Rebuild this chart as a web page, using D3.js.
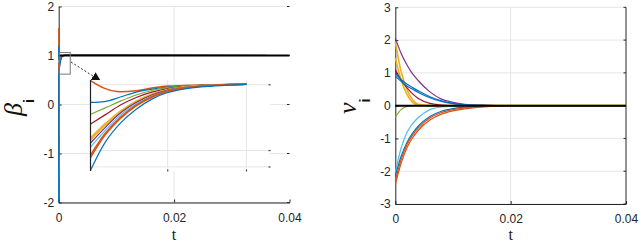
<!DOCTYPE html>
<html>
<head>
<meta charset="utf-8">
<script src="https://cdn.jsdelivr.net/npm/d3@7"></script>
<style>
  body { margin: 0; background: #fff; }
  svg { display: block; }
  .tick text { font-family: "Liberation Sans", Arial, sans-serif; font-size: 12px; fill: #262626; }
  .axis path, .axis line { stroke: #262626; }
</style>
</head>
<body>
<div id="chart"></div>
<script>
// MATLAB default line colours, one per agent
const seriesColors = ['#D95319', '#0072BD', '#77AC30', '#A2142F', '#EDB120', '#EDB120',
  '#7E2F8E', '#4DBEEE', '#D95319', '#D95319', '#0072BD'];

// beta_i : initial values at t = 0
const betaStart = [1.56, 1.2, 0.4, -0.3, 0.3, -0.6, -0.9, -1.5, -1.2, 0.8, -2.0];
// beta_i after the jump (times of the zoomed inset)
const betaInsetT = [0.00001, 0.0001, 0.0002, 0.0003, 0.0004, 0.0005, 0.0006, 0.0008, 0.001];
const betaInset = [
  [1.02, 0.982, 0.966, 0.971, 0.984, 0.994, 0.996, 1.0, 1.003],
  [0.914, 0.918, 0.94, 0.964, 0.979, 0.989, 0.994, 0.999, 1.002],
  [0.856, 0.886, 0.92, 0.95, 0.972, 0.986, 0.994, 0.999, 1.002],
  [0.808, 0.852, 0.901, 0.938, 0.964, 0.981, 0.991, 0.999, 1.002],
  [0.741, 0.808, 0.872, 0.92, 0.955, 0.977, 0.989, 0.999, 1.003],
  [0.73, 0.80, 0.866, 0.916, 0.952, 0.975, 0.988, 0.998, 1.003],
  [0.716, 0.789, 0.862, 0.913, 0.95, 0.974, 0.986, 0.998, 1.002],
  [0.696, 0.774, 0.852, 0.906, 0.945, 0.972, 0.986, 0.998, 1.002],
  [0.657, 0.76, 0.842, 0.901, 0.942, 0.969, 0.984, 0.997, 1.003],
  [0.645, 0.752, 0.836, 0.897, 0.939, 0.967, 0.983, 0.997, 1.003],
  [0.584, 0.716, 0.813, 0.881, 0.93, 0.962, 0.979, 0.994, 1.002],
];
const betaEnd = [0.04, 1.0];
const betaRef = 1;

// nu_i
const nuT = [0, 0.001, 0.002, 0.003, 0.004, 0.006, 0.008, 0.01, 0.012, 0.016, 0.02, 0.04];
const nuColors = ['#7E2F8E', '#EDB120', '#EDB120', '#A2142F', '#0072BD', '#0072BD',
  '#77AC30', '#4DBEEE', '#0072BD', '#D95319', '#D95319'];
const nuValues = [
  [2.06, 1.6, 1.25, 0.97, 0.76, 0.42, 0.2, 0.1, 0.04, 0.01, 0, 0],
  [1.95, 1.05, 0.5, 0.18, 0.04, 0, 0, 0, 0, 0, 0, 0],
  [1.45, 0.8, 0.35, 0.1, 0.02, 0, 0, 0, 0, 0, 0, 0],
  [1.1, 0.78, 0.55, 0.36, 0.22, 0.07, 0.02, 0, 0, 0, 0, 0],
  [0.98, 0.8, 0.66, 0.55, 0.45, 0.27, 0.15, 0.07, 0.03, 0.01, 0, 0],
  [0.9, 0.74, 0.6, 0.5, 0.4, 0.24, 0.13, 0.06, 0.02, 0, 0, 0],
  [-0.35, -0.12, -0.03, 0, 0, 0, 0, 0, 0, 0, 0, 0],
  [-2.05, -1.3, -0.83, -0.55, -0.36, -0.12, -0.04, -0.01, 0, 0, 0, 0],
  [-2.15, -1.55, -1.13, -0.84, -0.62, -0.33, -0.17, -0.09, -0.05, -0.01, 0, 0],
  [-2.41, -1.76, -1.29, -0.98, -0.75, -0.44, -0.26, -0.16, -0.1, -0.03, 0, 0],
  [-2.3, -1.65, -1.2, -0.9, -0.68, -0.38, -0.21, -0.12, -0.07, -0.02, 0, 0],
];
const nuRef = 0;

const xTicks = [0, 0.02, 0.04];
const betaTicks = [-2, -1, 0, 1, 2];
const nuTicks = [-3, -2, -1, 0, 1, 2, 3];
const insetGridT = [0.0005, 0.001];
const insetGridBeta = [0.6, 0.68, 1.0];
const zoomBox = { t: [0.0001, 0.002], beta: [0.62, 1.06] };
const arrowFrom = [0.00213, 0.867];
const arrowTo = [0.00716, 0.49];

const width = 640;
const height = 244;
const gridColor = '#e6e6e6';
const axisColor = '#262626';

const svg = d3.select('#chart')
  .append('svg')
  .attr('width', width)
  .attr('height', height);

svg.append('defs')
  .append('marker')
  .attr('id', 'arrowhead')
  .attr('viewBox', '0 0 10 10')
  .attr('refX', 9)
  .attr('refY', 5)
  .attr('markerWidth', 9)
  .attr('markerHeight', 9)
  .attr('markerUnits', 'userSpaceOnUse')
  .attr('orient', 'auto')
  .append('path')
  .attr('d', 'M0,0 L10,5 L0,10 z')
  .attr('fill', '#111');

function drawPanel({ x0, x1, y0, y1, yDomain, yTicks, boxRight }) {
  const xScale = d3.scaleLinear().domain([0, 0.04]).range([x0, x1]);
  const yScale = d3.scaleLinear().domain(yDomain).range([y1, y0]);
  const g = svg.append('g');

  // grid
  g.append('g').selectAll('line')
    .data(yTicks)
    .join('line')
    .attr('x1', x0).attr('x2', x1)
    .attr('y1', (d) => yScale(d)).attr('y2', (d) => yScale(d))
    .attr('stroke', gridColor);
  g.append('g').selectAll('line')
    .data(xTicks.slice(1, -1))
    .join('line')
    .attr('x1', (d) => xScale(d)).attr('x2', (d) => xScale(d))
    .attr('y1', y0).attr('y2', y1)
    .attr('stroke', gridColor);

  // axes
  g.append('g')
    .attr('class', 'axis')
    .attr('transform', `translate(0,${y1})`)
    .call(d3.axisBottom(xScale).tickValues(xTicks).tickFormat(d3.format('')).tickSizeInner(-3).tickSizeOuter(0).tickPadding(10.5));
  g.append('g')
    .attr('class', 'axis')
    .attr('transform', `translate(${x0},0)`)
    .call(d3.axisLeft(yScale).tickValues(yTicks).tickFormat((d) => String(d)).tickSizeInner(-3).tickSizeOuter(0).tickPadding(4.5));

  // box ticks on the right
  const right = g.append('g');
  right.selectAll('line')
    .data(yTicks)
    .join('line')
    .attr('x1', x1 - 2.5).attr('x2', x1)
    .attr('y1', (d) => yScale(d)).attr('y2', (d) => yScale(d))
    .attr('stroke', axisColor);
  if (boxRight) {
    right.append('line')
      .attr('x1', x1).attr('x2', x1)
      .attr('y1', y0).attr('y2', y1)
      .attr('stroke', axisColor);
  }

  return { xScale, yScale, g };
}

// ---------- left panel: beta ----------
const left = drawPanel({ x0: 58.7, x1: 289.5, y0: 6.5, y1: 202.5, yDomain: [-2, 2], yTicks: betaTicks, boxRight: false });

const betaLine = d3.line()
  .x((d) => left.xScale(d[0]))
  .y((d) => left.yScale(d[1]));

left.g.append('g')
  .selectAll('path')
  .data(betaInset.map((vals, i) => [[0, betaStart[i]], ...vals.map((v, j) => [betaInsetT[j], v]), betaEnd]))
  .join('path')
  .attr('fill', 'none')
  .attr('stroke', (d, i) => seriesColors[i])
  .attr('stroke-width', 1.2)
  .attr('d', betaLine);

left.g.append('line')
  .attr('x1', left.xScale(0)).attr('x2', left.xScale(0.04))
  .attr('y1', left.yScale(betaRef)).attr('y2', left.yScale(betaRef))
  .attr('stroke', '#000')
  .attr('stroke-width', 2.2);

// zoom box and arrow
left.g.append('rect')
  .attr('x', left.xScale(zoomBox.t[0]))
  .attr('y', left.yScale(zoomBox.beta[1]))
  .attr('width', left.xScale(zoomBox.t[1]) - left.xScale(zoomBox.t[0]))
  .attr('height', left.yScale(zoomBox.beta[0]) - left.yScale(zoomBox.beta[1]))
  .attr('fill', 'none')
  .attr('stroke', '#7a7a7a')
  .attr('stroke-width', 1);

left.g.append('line')
  .attr('x1', left.xScale(arrowFrom[0])).attr('y1', left.yScale(arrowFrom[1]))
  .attr('x2', left.xScale(arrowTo[0])).attr('y2', left.yScale(arrowTo[1]))
  .attr('stroke', '#333')
  .attr('stroke-width', 1)
  .attr('stroke-dasharray', '2,2')
  .attr('marker-end', 'url(#arrowhead)');

// inset
const insetX = d3.scaleLinear().domain([0.00001, 0.00115]).range([90.5, 270]);
const insetY = d3.scaleLinear().domain([0.58, 1.023]).range([171, 80]);
const inset = svg.append('g');

inset.append('rect')
  .attr('x', insetX.range()[0]).attr('y', insetY.range()[1])
  .attr('width', insetX.range()[1] - insetX.range()[0])
  .attr('height', insetY.range()[0] - insetY.range()[1])
  .attr('fill', '#fff');

inset.append('g').selectAll('line')
  .data(insetGridBeta)
  .join('line')
  .attr('x1', insetX.range()[0]).attr('x2', insetX.range()[1])
  .attr('y1', (d) => insetY(d)).attr('y2', (d) => insetY(d))
  .attr('stroke', gridColor);
inset.append('g').selectAll('line')
  .data(insetGridT)
  .join('line')
  .attr('x1', (d) => insetX(d)).attr('x2', (d) => insetX(d))
  .attr('y1', insetY.range()[1]).attr('y2', insetY.range()[0])
  .attr('stroke', gridColor);

// little tick dots at the inset edges
inset.append('g').selectAll('rect')
  .data(insetGridBeta)
  .join('rect')
  .attr('x', insetX.range()[1] - 1.5).attr('y', (d) => insetY(d) - 0.5)
  .attr('width', 2).attr('height', 1.2)
  .attr('fill', '#444');
inset.append('g').selectAll('rect')
  .data(insetGridT)
  .join('rect')
  .attr('x', (d) => insetX(d) - 0.5).attr('y', insetY.range()[0] - 1.5)
  .attr('width', 1.2).attr('height', 2)
  .attr('fill', '#444');

const insetLine = d3.line()
  .x((d) => insetX(d[0]))
  .y((d) => insetY(d[1]))
  .curve(d3.curveMonotoneX);

inset.append('g')
  .selectAll('path')
  .data(betaInset.map((vals) => vals.map((v, j) => [betaInsetT[j], v])))
  .join('path')
  .attr('fill', 'none')
  .attr('stroke', (d, i) => seriesColors[i])
  .attr('stroke-width', (d, i) => (seriesColors[i] === '#D95319' || seriesColors[i] === '#EDB120' ? 1.5 : 1.2))
  .attr('d', insetLine);

inset.append('line')
  .attr('x1', insetX.range()[0]).attr('x2', insetX.range()[0])
  .attr('y1', insetY.range()[1]).attr('y2', insetY.range()[0])
  .attr('stroke', '#222')
  .attr('stroke-width', 1.2);

// ---------- right panel: nu ----------
const right = drawPanel({ x0: 395.3, x1: 626, y0: 7.3, y1: 204, yDomain: [-3, 3], yTicks: nuTicks, boxRight: true });

const nuLine = d3.line()
  .x((d) => right.xScale(d[0]))
  .y((d) => right.yScale(d[1]))
  .curve(d3.curveMonotoneX);

right.g.append('g')
  .selectAll('path')
  .data(nuValues.map((vals) => vals.map((v, j) => [nuT[j], v])))
  .join('path')
  .attr('fill', 'none')
  .attr('stroke', (d, i) => nuColors[i])
  .attr('stroke-width', (d, i) => (nuColors[i] === '#EDB120' ? 1.6 : 1.2))
  .attr('d', nuLine);

right.g.append('line')
  .attr('x1', right.xScale(0)).attr('x2', right.xScale(0.04))
  .attr('y1', right.yScale(nuRef)).attr('y2', right.yScale(nuRef))
  .attr('stroke', '#000')
  .attr('stroke-width', 2);

// ---------- axis labels ----------
function yLabel(x, y, symbol, subDy) {
  const t = svg.append('text')
    .attr('transform', `translate(${x},${y}) rotate(-90)`)
    .attr('fill', '#111');
  t.append('tspan')
    .attr('font-family', '"Liberation Serif", "Times New Roman", serif')
    .attr('font-style', 'italic')
    .attr('font-size', 26)
    .text(symbol);
  t.append('tspan')
    .attr('dy', subDy)
    .attr('font-family', '"Liberation Sans", Arial, sans-serif')
    .attr('font-weight', 'bold')
    .attr('font-size', 15)
    .text('i');
}
yLabel(22, 116, 'β', 12);
yLabel(356, 114, 'ν', 14);

svg.selectAll('.xlabel')
  .data([left.xScale(0.02), right.xScale(0.02)])
  .join('text')
  .attr('class', 'xlabel')
  .attr('x', (d) => d)
  .attr('y', 240)
  .attr('text-anchor', 'middle')
  .attr('font-family', '"Liberation Serif", "Times New Roman", serif')
  .attr('font-size', 16)
  .attr('fill', '#222')
  .text('t');
</script>
</body>
</html>
